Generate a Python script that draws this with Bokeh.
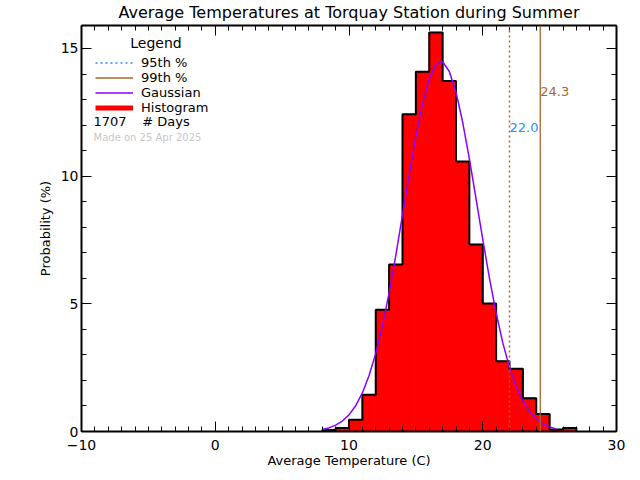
import numpy as np
from bokeh.plotting import figure
from bokeh.models import (Range1d, LinearAxis, FixedTicker, Span, Label, Legend, LegendItem,
                          CustomLabelingPolicy, Title)
from bokeh.embed import file_html
from bokeh.resources import INLINE

# ---- data ----
bin_edges = [8, 9, 10, 11, 12, 13, 14, 15, 16, 17, 18, 19, 20, 21, 22, 23, 24, 25, 26, 27]
hist_pct = [0.06, 0.14, 0.46, 1.44, 4.77, 6.54, 12.42, 14.09, 15.63, 13.73,
            10.57, 7.32, 5.01, 2.75, 2.46, 1.30, 0.69, 0.08, 0.14]
gauss_x = [8.0, 8.5, 9.0, 9.5, 10.0, 10.5, 11.0, 11.5, 12.0, 12.5, 13.0, 13.5,
           14.0, 14.5, 15.0, 15.5, 16.0, 16.5, 17.0, 17.5, 18.0, 18.5, 19.0, 19.5,
           20.0, 20.5, 21.0, 21.5, 22.0, 22.5, 23.0, 23.5, 24.0, 24.5, 25.0, 25.5]
gauss_y = [0.08, 0.14, 0.25, 0.41, 0.65, 1.01, 1.51, 2.19, 3.06, 4.15, 5.44, 6.90,
           8.48, 10.06, 11.56, 12.85, 13.82, 14.38, 14.48, 14.10, 13.29, 12.11, 10.68, 9.11,
           7.52, 6.01, 4.64, 3.47, 2.51, 1.76, 1.19, 0.78, 0.49, 0.30, 0.18, 0.10]
p95 = 22.0
p99 = 24.3
n_days = 1707
made_on = "Made on 25 Apr 2025"
title_text = "Average Temperatures at Torquay Station during Summer"
x_major = [-10, 0, 10, 20, 30]
x_minor = list(range(-10, 31))
y_major = [0, 5, 10, 15]
y_minor = list(range(0, 16))

FONT = "DejaVu Sans"
BROWN = "#A8662C"
BLUE = "#1E90FF"
PURPLE = "#8A00FF"

p = figure(frame_width=535, frame_height=406, output_backend="svg", toolbar_location=None,
           title=None, x_axis_location=None, y_axis_location=None,
           min_border_left=81, min_border_right=16, min_border_top=20, min_border_bottom=41)
p.x_range = Range1d(-10, 30)
p.y_range = Range1d(0, 15.9)
p.grid.visible = False
p.outline_line_color = None
p.background_fill_color = "white"
p.border_fill_color = "white"


def make_axis(show_labels):
    ax = LinearAxis()
    ax.axis_line_width = 2
    ax.axis_line_color = "black"
    ax.major_tick_in = 10
    ax.major_tick_out = 0
    ax.minor_tick_in = 5
    ax.minor_tick_out = 0
    ax.major_tick_line_color = "black"
    ax.minor_tick_line_color = "black"
    ax.major_label_text_font = FONT
    ax.major_label_text_color = "black"
    if show_labels:
        ax.major_label_text_font_size = "14px"
    else:
        ax.major_label_text_font_size = "1px"
        ax.major_label_standoff = 0
        ax.major_label_policy = CustomLabelingPolicy(code="return []")
    return ax


xb = make_axis(True)
xb.ticker = FixedTicker(ticks=x_major, minor_ticks=x_minor)
xb.major_label_overrides = {-10: "\u221210"}
xb.major_label_standoff = 8
xb.axis_label = "Average Temperature (C)"
xb.axis_label_text_font = FONT
xb.axis_label_text_font_size = "13px"
xb.axis_label_text_font_style = "normal"
xb.axis_label_text_color = "black"
xb.axis_label_standoff = 0
p.add_layout(xb, "below")

xt = make_axis(False)
xt.ticker = FixedTicker(ticks=x_major, minor_ticks=x_minor)
p.add_layout(xt, "above")

title = Title(text=title_text, align="center", text_font=FONT, text_font_size="16px",
              text_font_style="normal", text_color="black", standoff=0, offset=0)
p.add_layout(title, "above")

yl = make_axis(True)
yl.ticker = FixedTicker(ticks=y_major, minor_ticks=y_minor)
yl.major_label_standoff = 3
yl.axis_label = "Probability (%)"
yl.axis_label_text_font = FONT
yl.axis_label_text_font_size = "13px"
yl.axis_label_text_font_style = "normal"
yl.axis_label_text_color = "black"
yl.axis_label_standoff = 5
p.add_layout(yl, "left")

yr = make_axis(False)
yr.ticker = FixedTicker(ticks=y_major, minor_ticks=y_minor)
p.add_layout(yr, "right")

# histogram fill and outline
p.quad(left=bin_edges[:-1], right=bin_edges[1:], top=hist_pct, bottom=0,
       fill_color="#FF0000", line_color="#FF0000", line_width=1)
step_x = [bin_edges[0]] + bin_edges
step_y = [0] + hist_pct + [0]
p.step(x=step_x, y=step_y, mode="after", line_color="black", line_width=2)

# gaussian
r_gauss = p.line(x=gauss_x, y=gauss_y, line_color=PURPLE, line_width=1.5)

# percentile lines
p.add_layout(Span(location=p95, dimension="height", line_color=BROWN, line_width=1.5,
                  line_dash="2 3"))
p.add_layout(Span(location=p99, dimension="height", line_color=BROWN, line_width=1.3))
p.add_layout(Label(x=p95, y=11.9, text="%.1f" % p95, text_color=BLUE, text_font=FONT,
                   text_font_size="13px", text_baseline="middle", text_align="left"))
p.add_layout(Label(x=p99, y=13.33, text="%.1f" % p99, text_color=BROWN, text_font=FONT,
                   text_font_size="13px", text_baseline="middle", text_align="left"))

# legend samples (renderers with a single undrawable point)
nan = np.array([np.nan])
r95 = p.line(x=nan, y=nan, line_color=BLUE, line_width=1.3, line_dash="2 3")
r99 = p.line(x=nan, y=nan, line_color=BROWN, line_width=1.5)
rhist = p.line(x=nan, y=nan, line_color="#FF0000", line_width=5)

legend = Legend(items=[LegendItem(label="95th %", renderers=[r95]),
                       LegendItem(label="99th %", renderers=[r99]),
                       LegendItem(label="Gaussian", renderers=[r_gauss]),
                       LegendItem(label="Histogram", renderers=[rhist])],
                location=(14, 316), orientation="vertical",
                background_fill_alpha=0, border_line_alpha=0,
                padding=0, margin=0, spacing=0, label_height=15, glyph_height=15,
                glyph_width=38, label_standoff=8,
                label_text_font=FONT, label_text_font_size="13px", label_text_color="black")
p.add_layout(legend, "center")

p.add_layout(Label(x=-4.43, y=15.2, text="Legend", text_font=FONT, text_font_size="14px",
                   text_color="black", text_align="center", text_baseline="middle"))
p.add_layout(Label(x=-9.1, y=12.14, text=str(n_days), text_font=FONT, text_font_size="13px",
                   text_color="black", text_align="left", text_baseline="middle"))
p.add_layout(Label(x=-5.46, y=12.14, text="# Days", text_font=FONT, text_font_size="13px",
                   text_color="black", text_align="left", text_baseline="middle"))
p.add_layout(Label(x=-9.1, y=11.52, text=made_on, text_font=FONT, text_font_size="10px",
                   text_color="#C8C8C8", text_align="left", text_baseline="middle"))

open("out.html", "w").write(file_html(p, INLINE))
